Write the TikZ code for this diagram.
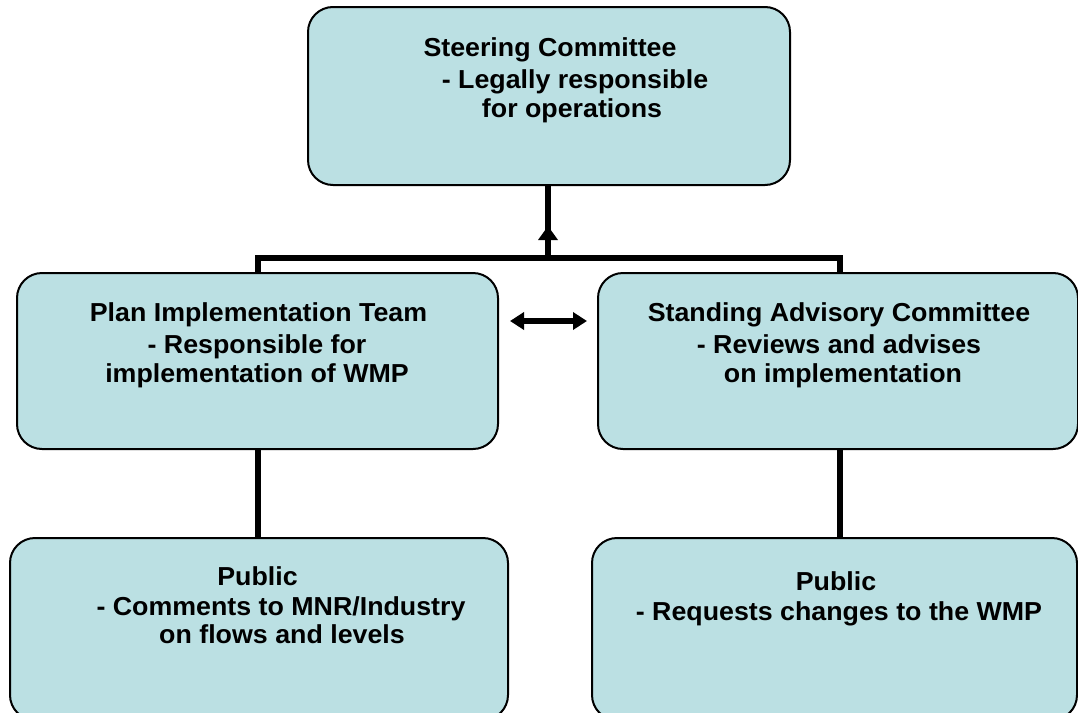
\documentclass[tikz,border=0pt]{standalone}
\usepackage{fontspec}
\setmainfont{Liberation Sans}[FakeStretch=1.03]
\usetikzlibrary{arrows.meta}
\definecolor{boxfill}{RGB}{187,224,227}
\tikzset{
  box/.style={draw=black, line width=2pt, fill=boxfill, rounded corners=25pt, inner sep=0pt},
  txt/.style={anchor=base, inner sep=0pt, font=\fontsize{26}{31}\selectfont\bfseries},
  conn/.style={line width=5.5pt},
}
\begin{document}
\begin{tikzpicture}[x=1pt,y=-1pt]
\useasboundingbox (0,0) rectangle (1078,712);
\clip (0,0) rectangle (1078,712);
% boxes
\node[box, minimum width=482pt, minimum height=178pt] (sc) at (549,96) {};
\node[box, minimum width=481pt, minimum height=176pt] (pit) at (257.5,361) {};
\node[box, minimum width=480pt, minimum height=176pt] (sac) at (838,361) {};
\node[box, minimum width=498pt, minimum height=182pt] (pl) at (259,629) {};
\node[box, minimum width=485pt, minimum height=182pt] (pr) at (834.5,629) {};
% texts
\node[txt] (sc1) at (550,56) {Steering Committee};
\node[txt] (sc2) at (575,88) {- Legally responsible};
\node[txt] (sc3) at (572,117) {for operations};
\node[txt] (pit1) at (258.5,321) {Plan Implementation Team};
\node[txt] (pit2) at (257,353) {- Responsible for};
\node[txt] (pit3) at (257,382) {implementation of WMP};
\node[txt] (sac1) at (839,321) {Standing Advisory Committee};
\node[txt] (sac2) at (839,353) {- Reviews and advises};
\node[txt] (sac3) at (843,382) {on implementation};
\node[txt] (pl1) at (257.5,585) {Public};
\node[txt] (pl2) at (281,615) {- Comments to MNR/Industry};
\node[txt] (pl3) at (282,643) {on flows and levels};
\node[txt] (pr1) at (836,590) {Public};
\node[txt] (pr2) at (839,620) {- Requests changes to the WMP};
% connectors
\coordinate (busL) at (258,258);
\coordinate (busR) at (840,258);
\coordinate (busM) at (548,258);
\draw[conn] (busL |- pit.north) -- (busL) -- (busR) -- (busR |- sac.north);
\draw[conn] (busM) -- (busM |- sc.south);
\coordinate (ah) at (548,226);
\draw[conn, -{Triangle[length=14pt,width=19pt]}] (busM) -- (ah);
\coordinate (dl) at (510,321);
\coordinate (dr) at (587,321);
\draw[line width=5.5pt, {Triangle[length=14pt,width=17pt]}-{Triangle[length=14pt,width=17pt]}] (dl) -- (dr);
\draw[conn] (pit.south -| busL) -- (pl.north -| busL);
\draw[conn] (sac.south -| busR) -- (pr.north -| busR);
\end{tikzpicture}
\end{document}
